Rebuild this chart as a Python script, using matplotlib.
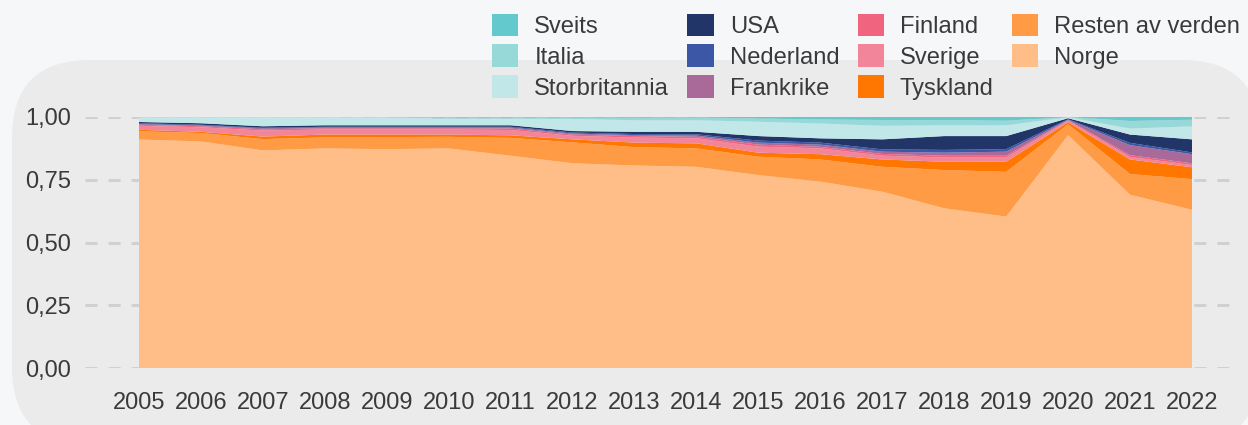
import matplotlib.pyplot as plt
from matplotlib.patches import FancyBboxPatch, Patch

# Share of total, stacked from the bottom (Norge) to the top (Sveits)
years = list(range(2005, 2023))

norge = [0.909, 0.902, 0.866, 0.874, 0.871, 0.874, 0.845, 0.815, 0.806, 0.801,
         0.768, 0.742, 0.702, 0.636, 0.603, 0.927, 0.690, 0.630]
resten = [0.033, 0.033, 0.045, 0.044, 0.048, 0.046, 0.071, 0.083, 0.073, 0.073,
          0.073, 0.088, 0.099, 0.152, 0.178, 0.043, 0.082, 0.122]
tyskland = [0.006, 0.005, 0.010, 0.011, 0.010, 0.009, 0.010, 0.012, 0.018, 0.020,
            0.016, 0.021, 0.029, 0.033, 0.040, 0.008, 0.058, 0.047]
sverige = [0.016, 0.018, 0.024, 0.020, 0.020, 0.020, 0.021, 0.014, 0.020, 0.020,
           0.024, 0.023, 0.015, 0.017, 0.017, 0.006, 0.010, 0.009]
finland = [0.004, 0.004, 0.005, 0.005, 0.005, 0.005, 0.006, 0.005, 0.006, 0.006,
           0.008, 0.006, 0.007, 0.007, 0.007, 0.002, 0.007, 0.007]
frankrike = [0.003, 0.003, 0.004, 0.003, 0.003, 0.003, 0.004, 0.004, 0.004, 0.005,
             0.008, 0.009, 0.009, 0.012, 0.016, 0.002, 0.040, 0.036]
nederland = [0.003, 0.003, 0.002, 0.003, 0.003, 0.003, 0.003, 0.004, 0.004, 0.005,
             0.008, 0.008, 0.009, 0.011, 0.010, 0.002, 0.009, 0.007]
usa = [0.005, 0.006, 0.006, 0.006, 0.006, 0.006, 0.006, 0.006, 0.009, 0.010,
       0.018, 0.017, 0.040, 0.055, 0.052, 0.004, 0.033, 0.052]
storbritannia = [0.019, 0.024, 0.036, 0.032, 0.031, 0.026, 0.026, 0.048, 0.046, 0.046,
                 0.057, 0.059, 0.054, 0.043, 0.043, 0.004, 0.024, 0.052]
italia = [0.001, 0.001, 0.001, 0.001, 0.002, 0.005, 0.005, 0.006, 0.010, 0.011,
          0.013, 0.016, 0.023, 0.021, 0.018, 0.001, 0.030, 0.026]
sveits = [0.001, 0.001, 0.001, 0.001, 0.001, 0.003, 0.003, 0.003, 0.004, 0.003,
          0.007, 0.011, 0.013, 0.013, 0.016, 0.001, 0.017, 0.012]

labels = ["Norge", "Resten av verden", "Tyskland", "Sverige", "Finland", "Frankrike",
          "Nederland", "USA", "Storbritannia", "Italia", "Sveits"]
series = [norge, resten, tyskland, sverige, finland, frankrike,
          nederland, usa, storbritannia, italia, sveits]
colors = ["#ffbe88", "#ff9b45", "#ff7700", "#f28599", "#f1647f", "#a96a99",
          "#3b57a6", "#213569", "#c2e7e8", "#97d8d9", "#63c9cc"]

plt.rcParams['font.family'] = ['Liberation Sans', 'DejaVu Sans']
text_color = "#3a3a3a"

W, H = 1248, 425
fig = plt.figure(figsize=(W / 100, H / 100), dpi=100, facecolor="#f6f7f9")

# rounded grey panel behind the chart (pixel coordinates)
bg = fig.add_axes([0, 0, 1, 1])
bg.set_xlim(0, W)
bg.set_ylim(H, 0)
bg.axis("off")
bg.add_patch(FancyBboxPatch((12, 60), 1260 - 12, 445 - 60,
                            boxstyle="round,pad=0,rounding_size=78",
                            facecolor="#ebebeb", edgecolor="none"))

# plot area
left, right = 85, 1235
y_top, y_bot = 116.7, 368.3
ax = fig.add_axes([left / W, (H - y_bot) / H, (right - left) / W, (y_bot - y_top) / H])
ax.set_facecolor("none")

ax.stackplot(years, *series, colors=colors, linewidth=0, zorder=2)

step = (1192 - 139) / 17
ax.set_xlim(2005 - (139 - left) / step, 2022 + (right - 1192) / step)
ax.set_ylim(0, 1)

ax.set_yticks([0, 0.25, 0.5, 0.75, 1.0])
ax.set_yticklabels(["0,00", "0,25", "0,50", "0,75", "1,00"])
ax.set_xticks(years)
ax.set_xticklabels([str(y) for y in years])
ax.tick_params(axis="both", length=0, labelsize=17, labelcolor=text_color)
ax.tick_params(axis="y", pad=10)
ax.tick_params(axis="x", pad=17)

ax.yaxis.grid(True, color="#d0d0d0", linewidth=2.16, linestyle=(0, (4, 3.7)), zorder=1)
ax.set_axisbelow(True)
for s in ax.spines.values():
    s.set_visible(False)

# legend: reversed stacking order, 3 rows x 4 columns
handles = [Patch(facecolor=c, edgecolor="none") for c in colors[::-1]]
leg = fig.legend(handles, labels[::-1], ncol=4, loc="upper left",
                 bbox_to_anchor=(492 / W, 1 - 13.5 / H), frameon=False,
                 fontsize=17.1, borderpad=0, borderaxespad=0,
                 handlelength=1.1, handleheight=1.1, handletextpad=0.68,
                 columnspacing=0.77, labelspacing=0.27)
for t in leg.get_texts():
    t.set_color(text_color)

fig.savefig("out.png", dpi=100, facecolor=fig.get_facecolor())
